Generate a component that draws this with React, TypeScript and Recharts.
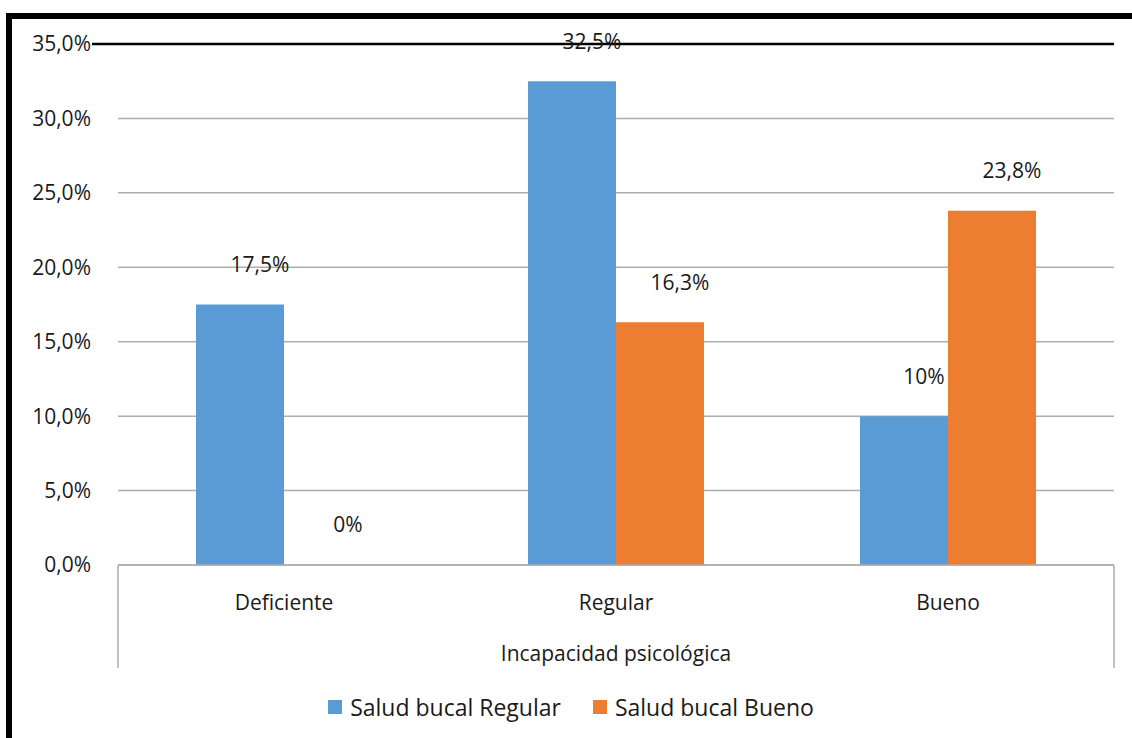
import { Bar, BarChart, CartesianGrid, LabelList, Legend, ReferenceLine, XAxis, YAxis } from "recharts";

const categories = ["Deficiente", "Regular", "Bueno"];
const regularValues = [17.5, 32.5, 10];
const buenoValues = [0, 16.3, 23.8];
const regularLabels = ["17,5%", "32,5%", "10%"];
const buenoLabels = ["0%", "16,3%", "23,8%"];
const yTicks = [0, 5, 10, 15, 20, 25, 30, 35];

const SERIES = [
  { key: "regular", labelKey: "regularLabel", name: "Salud bucal Regular", color: "#5b9bd5" },
  { key: "bueno", labelKey: "buenoLabel", name: "Salud bucal Bueno", color: "#ed7d31" },
];

const data = categories.map((category, i) => ({
  category,
  regular: regularValues[i],
  bueno: buenoValues[i],
  regularLabel: regularLabels[i],
  buenoLabel: buenoLabels[i],
}));

const FONT = "'Open Sans', 'Noto Sans', sans-serif";
const TEXT = "#1a1a1a";
const GRID = "#adadad";

const formatPct = (v: number) => `${v.toFixed(1).replace(".", ",")}%`;

function BarValueLabel(props: any) {
  const { x, y, width, value } = props;
  return (
    <text
      x={Number(x) + Number(width) / 2 + 20}
      y={Number(y) - 40}
      dy="0.355em"
      textAnchor="middle"
      fontSize={21}
      fontFamily={FONT}
      fill={TEXT}
    >
      {value}
    </text>
  );
}

function CategoryTick(props: any) {
  const { x, y, payload } = props;
  return (
    <text x={x} y={y + 30} dy="0.355em" textAnchor="middle" fontSize={21} fontFamily={FONT} fill={TEXT}>
      {payload.value}
    </text>
  );
}

function AxisTitle(props: any) {
  const { x, y, width } = props.viewBox;
  return (
    <g>
      <line x1={x} y1={y} x2={x} y2={y + 103} stroke={GRID} strokeWidth={1.5} />
      <line x1={x + width} y1={y} x2={x + width} y2={y + 103} stroke={GRID} strokeWidth={1.5} />
      <text
        x={x + width / 2}
        y={y + 89}
        dy="0.355em"
        textAnchor="middle"
        fontSize={21}
        fontFamily={FONT}
        fill={TEXT}
      >
        Incapacidad psicológica
      </text>
    </g>
  );
}

function TopLine(props: any) {
  const { x1, y1, x2 } = props;
  return <line x1={x1 - 26} y1={y1} x2={x2} y2={y1} stroke="#000" strokeWidth={2.5} />;
}

function LegendContent() {
  return (
    <div
      style={{
        display: "flex",
        justifyContent: "center",
        gap: 32,
        fontFamily: FONT,
        fontSize: 23,
        color: TEXT,
        paddingLeft: 28,
      }}
    >
      {SERIES.map((s) => (
        <div key={s.key} style={{ display: "flex", alignItems: "center", gap: 8 }}>
          <span style={{ width: 14, height: 14, background: s.color, display: "inline-block" }} />
          <span>{s.name}</span>
        </div>
      ))}
    </div>
  );
}

export default function App() {
  return (
    <div
      style={{
        position: "absolute",
        left: 0,
        top: 0,
        width: 1132,
        height: 738,
        overflow: "hidden",
        background: "#fff",
      }}
    >
      <div
        style={{
          position: "absolute",
          left: 6,
          top: 13,
          width: 1200,
          height: 800,
          borderLeft: "6px solid #000",
          borderTop: "6px solid #000",
        }}
      />
      <div style={{ position: "absolute", left: 0, top: 0 }}>
        <BarChart
          width={1132}
          height={738}
          data={data}
          margin={{ top: 44, right: 18, bottom: 17, left: 0 }}
          barGap={0}
          barSize={88}
        >
          <CartesianGrid vertical={false} stroke={GRID} strokeWidth={1.5} />
          <XAxis
            dataKey="category"
            height={126}
            axisLine={{ stroke: GRID, strokeWidth: 1.5 }}
            tickLine={false}
            tick={<CategoryTick />}
            interval={0}
            label={<AxisTitle />}
          />
          <YAxis
            width={118}
            domain={[0, 35]}
            ticks={yTicks}
            tickFormatter={formatPct}
            axisLine={false}
            tickLine={false}
            tickSize={0}
            tickMargin={27}
            tick={{ fontSize: 21, fontFamily: FONT, fill: TEXT }}
          />
          <ReferenceLine y={35} shape={<TopLine />} />
          <Legend verticalAlign="bottom" height={30} content={<LegendContent />} />
          {SERIES.map((s) => (
            <Bar
              key={s.key}
              dataKey={s.key}
              name={s.name}
              fill={s.color}
              minPointSize={0.05}
              isAnimationActive={false}
            >
              <LabelList dataKey={s.labelKey} content={<BarValueLabel />} />
            </Bar>
          ))}
        </BarChart>
      </div>
    </div>
  );
}
